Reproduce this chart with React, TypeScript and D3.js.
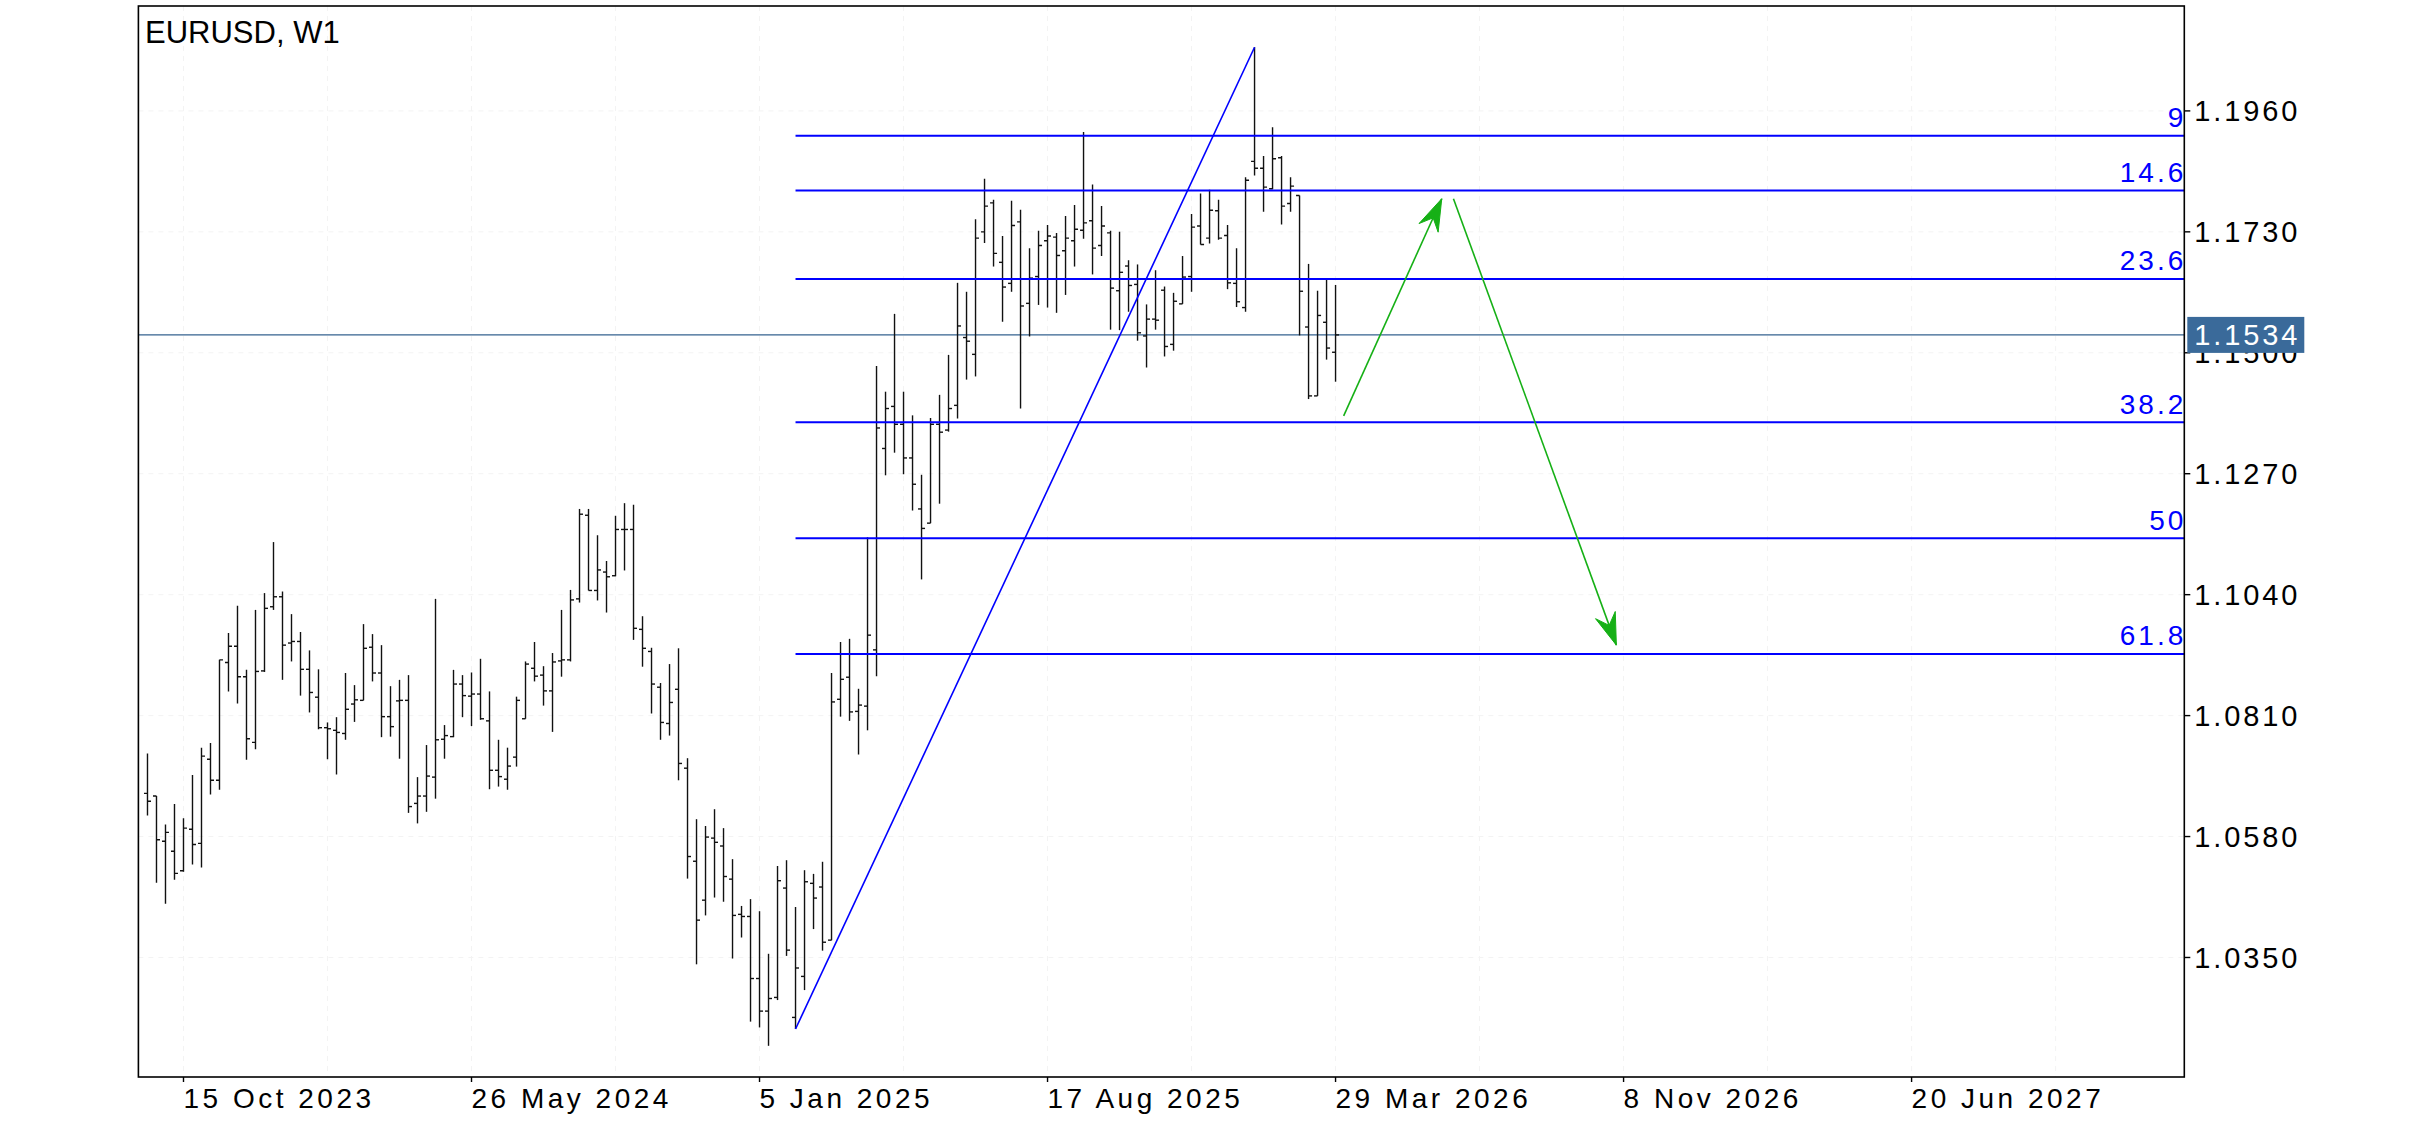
import React from "react";
import * as d3 from "d3";

// ---------- data (weekly EURUSD bars, first bar = week of 17 Sep 2023) ----------
const FIRST_WEEK = "2023-09-17";
const OPEN = [
  1.0662, 1.0657, 1.0571, 1.0552, 1.0515, 1.0594, 1.0567, 1.0727, 1.0687, 1.0911,
  1.0942, 1.0884, 1.0759, 1.0895, 1.1017, 1.1036, 1.0948, 1.0951, 1.0898, 1.0845,
  1.0787, 1.0782, 1.0776, 1.0832, 1.0839, 1.0940, 1.0891, 1.0808, 1.0838, 1.0839,
  1.0643, 1.0657, 1.0693, 1.0765, 1.0770, 1.0870, 1.0847, 1.0851, 1.0800, 1.0706,
  1.0689, 1.0731, 1.0804, 1.0900, 1.0887, 1.0857, 1.0914, 1.0916, 1.1032, 1.1191,
  1.1048, 1.1083, 1.1076, 1.1164, 1.1164, 1.0974, 1.0932, 1.0864, 1.0795, 1.0860,
  1.0710, 1.0533, 1.0459, 1.0577, 1.0562, 1.0499, 1.0432, 1.0428, 1.0310, 1.0248,
  1.0274, 1.0482, 1.0236, 1.0314, 1.0491, 1.0484, 1.0383, 1.0841, 1.0883, 1.0818,
  1.0828, 1.0935, 1.1318, 1.1398, 1.1364, 1.1300, 1.1203, 1.1176, 1.1364, 1.1353,
  1.1400, 1.1529, 1.1497, 1.1730, 1.1785, 1.1672, 1.1632, 1.1749, 1.1594, 1.1645,
  1.1713, 1.1720, 1.1694, 1.1713, 1.1733, 1.1751, 1.1704, 1.1728, 1.1618, 1.1665,
  1.1630, 1.1532, 1.1564, 1.1619, 1.1516, 1.1593, 1.1645, 1.1741, 1.1718, 1.1770,
  1.1723, 1.1632, 1.1586, 1.1864, 1.1851, 1.1812, 1.1871, 1.1784, 1.1799, 1.1549,
  1.1418, 1.1558, 1.1501,
];
const HIGH = [
  1.0738, 1.0657, 1.0603, 1.0642, 1.0615, 1.0697, 1.0749, 1.0758, 1.0916, 1.0967,
  1.1019, 1.0897, 1.1011, 1.1043, 1.1140, 1.1046, 1.1003, 1.0969, 1.0934, 1.0898,
  1.0797, 1.0807, 1.0891, 1.0868, 1.0984, 1.0965, 1.0944, 1.0866, 1.0878, 1.0887,
  1.0693, 1.0754, 1.1032, 1.0792, 1.0897, 1.0887, 1.0892, 1.0918, 1.0856, 1.0764,
  1.0749, 1.0846, 1.0913, 1.0950, 1.0904, 1.0929, 1.1011, 1.1049, 1.1203, 1.1203,
  1.1153, 1.1104, 1.1190, 1.1214, 1.1211, 1.0999, 1.0939, 1.0872, 1.0908, 1.0938,
  1.0729, 1.0613, 1.0600, 1.0632, 1.0596, 1.0537, 1.0448, 1.0461, 1.0438, 1.0357,
  1.0524, 1.0535, 1.0446, 1.0516, 1.0509, 1.0532, 1.0891, 1.0950, 1.0956, 1.0861,
  1.1149, 1.1475, 1.1426, 1.1574, 1.1426, 1.1381, 1.1268, 1.1376, 1.1420, 1.1496,
  1.1633, 1.1616, 1.1754, 1.1831, 1.1791, 1.1722, 1.1789, 1.1772, 1.1699, 1.1732,
  1.1743, 1.1728, 1.1760, 1.1781, 1.1920, 1.1820, 1.1779, 1.1732, 1.1730, 1.1676,
  1.1668, 1.1592, 1.1657, 1.1626, 1.1614, 1.1684, 1.1764, 1.1803, 1.1810, 1.1791,
  1.1743, 1.1699, 1.1834, 1.2081, 1.1874, 1.1929, 1.1874, 1.1834, 1.1799, 1.1669,
  1.1618, 1.1639, 1.1629,
];
const LOW = [
  1.0620, 1.0492, 1.0452, 1.0498, 1.0513, 1.0527, 1.0521, 1.0660, 1.0669, 1.0856,
  1.0833, 1.0726, 1.0746, 1.0893, 1.1011, 1.0878, 1.0913, 1.0848, 1.0816, 1.0784,
  1.0727, 1.0698, 1.0764, 1.0798, 1.0839, 1.0875, 1.0769, 1.0770, 1.0728, 1.0625,
  1.0605, 1.0627, 1.0652, 1.0728, 1.0769, 1.0807, 1.0790, 1.0802, 1.0670, 1.0675,
  1.0669, 1.0713, 1.0804, 1.0875, 1.0829, 1.0779, 1.0884, 1.0913, 1.1025, 1.1048,
  1.1029, 1.1006, 1.1075, 1.1086, 1.0954, 1.0903, 1.0814, 1.0764, 1.0772, 1.0687,
  1.0500, 1.0337, 1.0430, 1.0464, 1.0456, 1.0348, 1.0388, 1.0228, 1.0217, 1.0182,
  1.0269, 1.0353, 1.0214, 1.0288, 1.0404, 1.0363, 1.0383, 1.0808, 1.0800, 1.0736,
  1.0782, 1.0885, 1.1267, 1.1310, 1.1269, 1.1200, 1.1069, 1.1176, 1.1213, 1.1350,
  1.1375, 1.1449, 1.1455, 1.1709, 1.1664, 1.1559, 1.1616, 1.1394, 1.1531, 1.1591,
  1.1586, 1.1576, 1.1610, 1.1664, 1.1717, 1.1649, 1.1684, 1.1544, 1.1543, 1.1578,
  1.1523, 1.1472, 1.1544, 1.1493, 1.1504, 1.1593, 1.1616, 1.1706, 1.1708, 1.1715,
  1.1621, 1.1587, 1.1578, 1.1837, 1.1768, 1.1811, 1.1744, 1.1768, 1.1533, 1.1412,
  1.1418, 1.1487, 1.1445,
];
const CLOSE = [
  1.0647, 1.0574, 1.0588, 1.0510, 1.0596, 1.0565, 1.0733, 1.0687, 1.0916, 1.0942,
  1.0884, 1.0766, 1.0894, 1.1014, 1.1036, 1.0944, 1.0951, 1.0898, 1.0854, 1.0787,
  1.0785, 1.0778, 1.0822, 1.0840, 1.0938, 1.0891, 1.0808, 1.0789, 1.0839, 1.0637,
  1.0657, 1.0695, 1.0764, 1.0772, 1.0870, 1.0848, 1.0851, 1.0804, 1.0706, 1.0694,
  1.0714, 1.0839, 1.0908, 1.0885, 1.0857, 1.0912, 1.0916, 1.1030, 1.1193, 1.1048,
  1.1087, 1.1074, 1.1164, 1.1164, 1.0976, 1.0938, 1.0870, 1.0797, 1.0835, 1.0719,
  1.0542, 1.0421, 1.0579, 1.0569, 1.0504, 1.0430, 1.0428, 1.0310, 1.0248, 1.0272,
  1.0496, 1.0364, 1.0330, 1.0494, 1.0463, 1.0379, 1.0836, 1.0879, 1.0817, 1.0830,
  1.0963, 1.1357, 1.1394, 1.1364, 1.1300, 1.1250, 1.1166, 1.1364, 1.1349, 1.1394,
  1.1551, 1.1522, 1.1718, 1.1779, 1.1689, 1.1625, 1.1742, 1.1589, 1.1642, 1.1704,
  1.1722, 1.1685, 1.1718, 1.1735, 1.1747, 1.1699, 1.1741, 1.1623, 1.1653, 1.1628,
  1.1538, 1.1564, 1.1562, 1.1512, 1.1598, 1.1644, 1.1739, 1.1706, 1.1771, 1.1718,
  1.1633, 1.1597, 1.1828, 1.1851, 1.1815, 1.1869, 1.1779, 1.1817, 1.1617, 1.1418,
  1.1571, 1.1509, 1.1534,
];

const Y_TICKS = [1.035, 1.058, 1.081, 1.104, 1.127, 1.15, 1.173, 1.196];
const X_TICK_WEEKS = [0, 32, 64, 96, 128, 160, 192]; // weeks from 15 Oct 2023
const LAST_PRICE = 1.1534;

// Fibonacci retracement (anchored low bar -> high bar)
const FIB_ANCHOR_WEEKS = [68, 119];
const FIB_PRICES = [1.0214, 1.2081];
const FIB_LEVELS = [9, 14.6, 23.6, 38.2, 50, 61.8];

// Hand-drawn forecast arrows: [week, price] start and end
const ARROW_UP = [[128.9, 1.138], [139.8, 1.1793]];
const ARROW_DOWN = [[141.1, 1.1793], [159.2, 1.0944]];

// ---------- layout ----------
const W = 2436;
const H = 1125;
const L = 138.4;
const R = 2184.3;
const T = 6;
const B = 1077;

const TICK_FONT = "'Liberation Sans', Arial, Helvetica, sans-serif";

function arrowHead(x1: number, y1: number, x2: number, y2: number) {
  const a = Math.atan2(y2 - y1, x2 - x1);
  const len = 32;
  const half = 10.5;
  const notch = 21;
  const ux = Math.cos(a), uy = Math.sin(a);
  const px = -uy, py = ux;
  const bx = x2 - ux * len, by = y2 - uy * len;
  const nx = x2 - ux * notch, ny = y2 - uy * notch;
  return `M${x2},${y2}L${bx + px * half},${by + py * half}L${nx},${ny}L${bx - px * half},${by - py * half}Z`;
}

export default function App() {
  const x = d3.scaleLinear().domain([-5.01, 222.3]).range([L, R]);
  const y = d3.scaleLinear().domain([1.01227, 1.21595]).range([B, T]);
  const start = new Date(Date.UTC(2023, 9, 15));
  const firstK = Math.round((new Date(FIRST_WEEK + "T00:00:00Z").getTime() - start.getTime()) / (7 * 864e5));
  const fmt = d3.utcFormat("%-d %b %Y");
  const yFmt = d3.format(".4f");

  const bars = OPEN.map((o, i) => ({ k: firstK + i, o, h: HIGH[i], l: LOW[i], c: CLOSE[i] }));

  const gridWeeks = d3.range(0, 223, 16);
  const fibLow = FIB_PRICES[0], fibHigh = FIB_PRICES[1];
  const fibX0 = x(FIB_ANCHOR_WEEKS[0]);

  const arrows = [ARROW_UP, ARROW_DOWN].map((a) => {
    const x1 = x(a[0][0]), y1 = y(a[0][1]), x2 = x(a[1][0]), y2 = y(a[1][1]);
    return { x1, y1, x2, y2, head: arrowHead(x1, y1, x2, y2) };
  });

  return (
    <svg width={W} height={H} style={{ position: "absolute", left: 0, top: 0, background: "#fff" }}>
      <rect x={0} y={0} width={W} height={H} fill="#fff" />
      <defs>
        <clipPath id="plot">
          <rect x={L} y={T} width={R - L} height={B - T} />
        </clipPath>
      </defs>
      {/* grid */}
      <g stroke="#f3f3f3" strokeWidth={1} strokeDasharray="5,5">
        {Y_TICKS.map((t) => (
          <line key={"gy" + t} x1={L} x2={R} y1={y(t)} y2={y(t)} />
        ))}
        {gridWeeks.map((k) => (
          <line key={"gx" + k} x1={x(k)} x2={x(k)} y1={T} y2={B} />
        ))}
      </g>

      <g clipPath="url(#plot)">
        {/* last price line */}
        <line x1={L} x2={R} y1={y(LAST_PRICE)} y2={y(LAST_PRICE)} stroke="#35628f" strokeWidth={1.2} />

        {/* OHLC bars */}
        <g stroke="#111" strokeWidth={1.4}>
          {bars.map((b) => {
            const cx = x(b.k);
            return (
              <g key={b.k}>
                <line x1={cx} x2={cx} y1={y(b.h)} y2={y(b.l)} />
                <line x1={cx - 3.5} x2={cx} y1={y(b.o)} y2={y(b.o)} />
                <line x1={cx} x2={cx + 3.5} y1={y(b.c)} y2={y(b.c)} />
              </g>
            );
          })}
        </g>

        {/* fibonacci levels */}
        {FIB_LEVELS.map((lv) => {
          const p = fibHigh - ((fibHigh - fibLow) * lv) / 100;
          return (
            <g key={"f" + lv}>
              <line x1={fibX0} x2={R} y1={y(p)} y2={y(p)} stroke="#0000ff" strokeWidth={2} />
              <text
                x={R + 2}
                y={y(p) - 8.5}
                textAnchor="end"
                fill="#0000ff"
                fontFamily={TICK_FONT}
                fontSize={28}
                letterSpacing={3}
              >
                {String(lv)}
              </text>
            </g>
          );
        })}

        {/* fib trend line */}
        <line
          x1={x(FIB_ANCHOR_WEEKS[0])}
          y1={y(fibLow)}
          x2={x(FIB_ANCHOR_WEEKS[1])}
          y2={y(fibHigh)}
          stroke="#0000ff"
          strokeWidth={1.6}
        />

        {/* forecast arrows */}
        {arrows.map((a, i) => (
          <g key={"a" + i}>
            <line x1={a.x1} y1={a.y1} x2={a.x2} y2={a.y2} stroke="#16b016" strokeWidth={1.6} />
            <path d={a.head} fill="#16b016" stroke="#16b016" strokeWidth={1} />
          </g>
        ))}
      </g>

      {/* frame */}
      <rect x={L} y={T} width={R - L} height={B - T} fill="none" stroke="#000" strokeWidth={1.6} />

      {/* y axis */}
      {Y_TICKS.map((t) => (
        <g key={"yt" + t}>
          <line x1={R} x2={R + 6} y1={y(t)} y2={y(t)} stroke="#000" strokeWidth={1.4} />
          <text
            x={R + 10}
            y={y(t)}
            dy="0.36em"
            fontFamily={TICK_FONT}
            fontSize={29}
            letterSpacing={2.9}
            fill="#000"
          >
            {yFmt(t)}
          </text>
        </g>
      ))}

      {/* last price label */}
      <rect x={R + 3} y={y(LAST_PRICE) - 18} width={117} height={36} fill="#3a6a9a" />
      <text
        x={R + 10}
        y={y(LAST_PRICE)}
        dy="0.36em"
        fontFamily={TICK_FONT}
        fontSize={29}
        letterSpacing={2.9}
        fill="#fff"
      >
        {yFmt(LAST_PRICE)}
      </text>

      {/* x axis */}
      {X_TICK_WEEKS.map((k) => (
        <g key={"xt" + k}>
          <line x1={x(k)} x2={x(k)} y1={B} y2={B + 5} stroke="#000" strokeWidth={1.4} />
          <text x={x(k)} y={B + 31} fontFamily={TICK_FONT} fontSize={28} letterSpacing={3.5} fill="#000">
            {fmt(d3.utcWeek.offset(start, k))}
          </text>
        </g>
      ))}

      {/* title */}
      <text x={145} y={42.5} fontFamily={TICK_FONT} fontSize={31} fill="#000">
        EURUSD, W1
      </text>
    </svg>
  );
}
